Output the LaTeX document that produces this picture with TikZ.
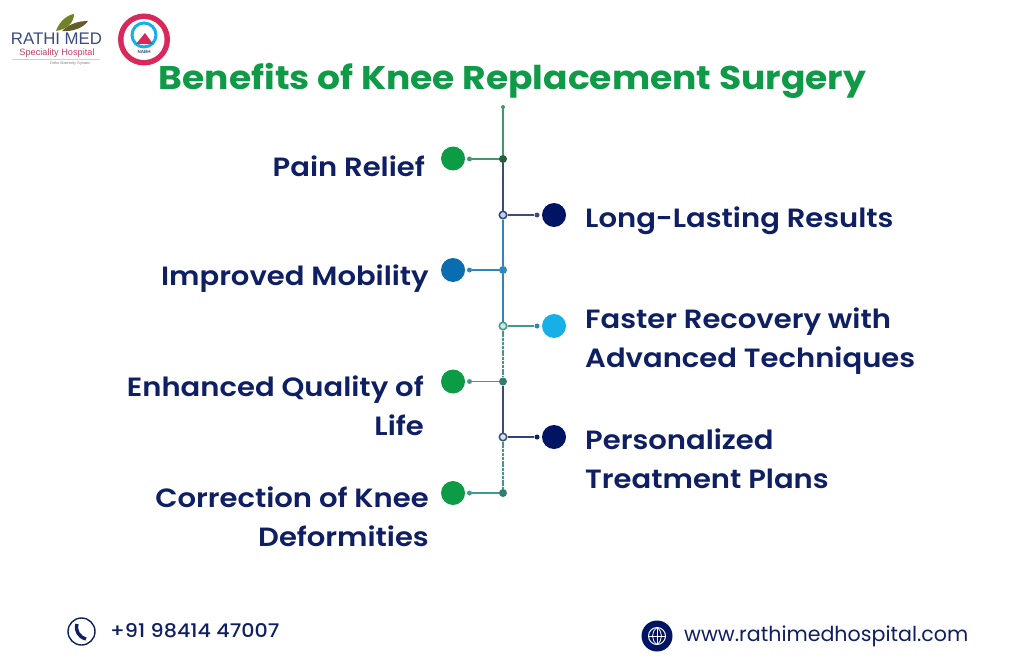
\documentclass[tikz,border=0pt]{standalone}
\usepackage{fontspec}
\setmainfont{Poppins}
\newfontfamily\medfont[FakeStretch=1.1]{Poppins SemiBold}
\newfontfamily\ttlfont[FakeStretch=1.1]{Poppins}
\newfontfamily\telfont[FakeStretch=1.1]{Poppins Medium}
\newfontfamily\lat{Liberation Sans}
\definecolor{navy}{HTML}{0F1F63}
\definecolor{tgreen}{HTML}{0E9A46}
\definecolor{dgreen}{HTML}{0C9C45}
\definecolor{dnavy}{HTML}{001464}
\definecolor{mblue}{HTML}{0A6DB0}
\definecolor{lblue}{HTML}{17B0E6}
\definecolor{lgreen}{HTML}{3E9A68}
\definecolor{lnavy}{HTML}{3B4A80}
\definecolor{lsteel}{HTML}{2F86B8}
\definecolor{lteal}{HTML}{3F9A8A}
\definecolor{nabh}{HTML}{D9285A}
\tikzset{
 lab/.style={font=\medfont\fontsize{26.4}{39}\selectfont, text=navy, inner sep=0pt, align=left},
 labr/.style={lab, align=right},
 big/.style={circle, minimum size=24pt, inner sep=0pt},
 tip/.style={circle, minimum size=5pt, inner sep=0pt},
 jn/.style={circle, minimum size=8pt, inner sep=0pt},
 jno/.style={circle, minimum size=7.5pt, inner sep=0pt, line width=1.5pt, draw},
 conn/.style={line width=1.5pt},
}
\begin{document}
\begin{tikzpicture}[x=1pt,y=-1pt]
\useasboundingbox[fill=white] (0,0) rectangle (1024,671);

% logo
\fill[olive!70!green!80!black] (56,31) .. controls (60,20) and (68,15) .. (74,14) .. controls (74,22) and (68,29) .. (56,31) -- cycle;
\fill[olive!60!black] (62,31) .. controls (70,23) and (80,21) .. (88,21) .. controls (84,27) and (74,32) .. (62,31) -- cycle;
\node[font=\lat\fontsize{16.8}{18}\selectfont, text=lnavy, inner sep=0pt, anchor=base] (lg1) at (56.5,45) {RATHI MED};
\node[font=\lat\fontsize{9.2}{10}\selectfont, text=nabh!70!gray, inner sep=0pt, anchor=base] (lg2) at (57,56) {Speciality Hospital};
\draw[nabh!30, line width=.4pt] (12,59) -- (100,59);
\node[font=\lat\fontsize{3.8}{4}\selectfont, text=gray, inner sep=0pt, anchor=base] (lg3) at (70,65) {Ortho Maternity Gynaec};
\node[circle, minimum size=52pt, inner sep=0pt, fill=nabh] (nb) at (144,39.5) {};
\node[circle, minimum size=41pt, inner sep=0pt, fill=white] (nb2) at (144,39.5) {};
\node[circle, minimum size=24pt, inner sep=0pt, line width=3pt, draw=lblue, fill=white] (nb3) at (144,35) {};
\fill[nabh] (136,44) -- (145,33) -- (153,44) -- cycle;
\node[font=\lat\bfseries\fontsize{4.5}{5}\selectfont, text=lnavy, inner sep=0pt] (nb4) at (144,52) {NABH};

% title
\node[font=\ttlfont\bfseries\fontsize{32.8}{38}\selectfont, text=tgreen, inner sep=0pt, anchor=base] (title) at (512.5,90) {Benefits of Knee Replacement Surgery};

% spine
\coordinate (top) at (503,107);
\node[jn, fill=lgreen!60!black] (j1) at (503,159) {};
\node[jno, draw=dnavy!80, fill=lsteel!35] (j2) at (503,215) {};
\node[jn, fill=lsteel] (j3) at (503,270) {};
\node[jno, draw=lteal, fill=lteal!25] (j4) at (503,326) {};
\node[jn, fill=lteal!80!black] (j5) at (503,381.5) {};
\node[jno, draw=navy!80, fill=lteal!25] (j6) at (503,437) {};
\node[jn, fill=lteal!80!black] (j7) at (503,493) {};
\fill[lgreen] (top) circle (2pt);
\draw[conn, lgreen] (top) -- (j1);
\draw[conn, lnavy] (j1) -- (j2);
\draw[conn, lsteel] (j2) -- (j3);
\draw[conn, lsteel] (j3) -- (j4);
\draw[conn, lteal, dash pattern=on 3pt off .8pt] (j4) -- (j5);
\draw[conn, lnavy] (j5) -- (j6);
\draw[conn, lteal, dash pattern=on 3pt off .8pt] (j6) -- (j7);

% branches
\node[big, fill=dgreen] (c1) at (453,158.5) {};
\node[tip, fill=lgreen] (t1) at (469.5,159) {};
\draw[conn, lgreen] (t1) -- (j1);
\node[big, fill=dnavy] (c2) at (554,215) {};
\node[tip, fill=lnavy] (t2) at (537,215) {};
\draw[conn, lnavy] (j2) -- (t2);
\node[big, fill=mblue] (c3) at (453,270) {};
\node[tip, fill=lsteel] (t3) at (469.5,270) {};
\draw[conn, lsteel] (t3) -- (j3);
\node[big, fill=lblue] (c4) at (554,326) {};
\node[tip, fill=lsteel] (t4) at (537,326) {};
\draw[conn, lteal] (j4) -- (t4);
\node[big, fill=dgreen] (c5) at (453,381.5) {};
\node[tip, fill=lteal] (t5) at (469.5,381.5) {};
\draw[conn, lteal] (t5) -- (j5);
\node[big, fill=dnavy] (c6) at (554,437) {};
\node[tip, fill=navy] (t6) at (537,437) {};
\draw[conn, navy!85] (j6) -- (t6);
\node[big, fill=dgreen] (c7) at (453,493) {};
\node[tip, fill=lteal] (t7) at (469.5,493) {};
\draw[conn, lteal] (t7) -- (j7);

% labels
\node[labr, anchor=base east] (l1) at (425,176) {Pain Relief};
\node[lab, anchor=base west] (l2) at (585,227) {Long-Lasting Results};
\node[labr, anchor=base east] (l3) at (429,285) {Improved Mobility};
\node[lab, anchor=base west] (l4) at (585,328) {Faster Recovery with};
\node[lab, anchor=base west] (l4b) at (585,367) {Advanced Techniques};
\node[labr, anchor=base east] (l5) at (424,396) {Enhanced Quality of};
\node[labr, anchor=base east] (l5b) at (424,435) {Life};
\node[lab, anchor=base west] (l6) at (585,449) {Personalized};
\node[lab, anchor=base west] (l6b) at (585,488) {Treatment Plans};
\node[labr, anchor=base east] (l7) at (429,507) {Correction of Knee};
\node[labr, anchor=base east] (l7b) at (429,546) {Deformities};

% footer
\node[circle, minimum size=27pt, inner sep=0pt, draw=navy, line width=1.4pt] (ph) at (81.5,631.5) {};
\draw[navy, line width=3.4pt] (77,624) .. controls (75,631) and (79,637) .. (86,639);
\node[font=\telfont\fontsize{18.8}{22}\selectfont, text=navy, inner sep=0pt, anchor=base west] (tel) at (110,637) {+91 98414 47007};
\node[circle, minimum size=31pt, inner sep=0pt, fill=dnavy] (gl) at (657,636) {};
\node[circle, minimum size=17pt, inner sep=0pt, draw=white, line width=1pt] (gl2) at (657,636) {};
\draw[white, line width=.8pt] (648.5,636) -- (665.5,636) (657,627.5) -- (657,644.5);
\draw[white, line width=.8pt] (657,627.5) .. controls (651,632) and (651,640) .. (657,644.5) (657,627.5) .. controls (663,632) and (663,640) .. (657,644.5);
\node[font=\fontsize{20.6}{24}\selectfont, text=navy, inner sep=0pt, anchor=base west] (web) at (684,641) {www.rathimedhospital.com};
\end{tikzpicture}
\end{document}
